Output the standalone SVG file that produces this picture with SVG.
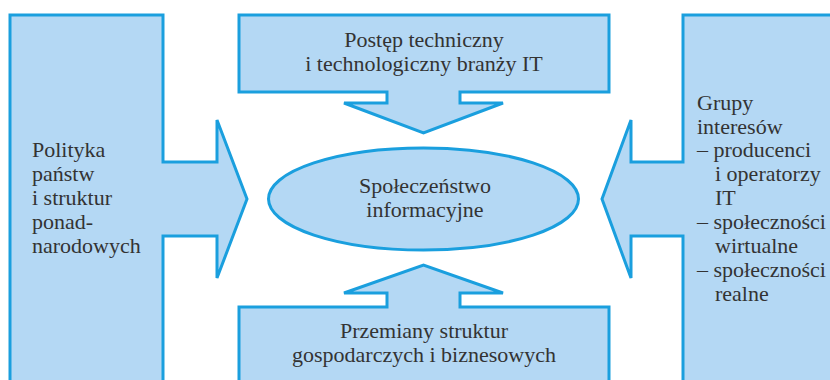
<svg xmlns="http://www.w3.org/2000/svg" width="830" height="380" viewBox="0 0 830 380">
<style>
.shape{fill:#b4d8f4;stroke:#1a9fde;stroke-width:3;stroke-linejoin:miter}
text{font-family:"Liberation Serif","Times New Roman",serif;font-size:22px;fill:#333333}
.c{text-anchor:middle}
</style>
<rect width="830" height="380" fill="#ffffff"/>
<g id="node-left">
<polygon class="shape" points="10,15 163,15 163,162 217,162 217,120 247,199 217,278 217,236 163,236 163,392 10,392"/>
<text x="32" y="157">Polityka</text>
<text x="32" y="181">państw</text>
<text x="32" y="205">i struktur</text>
<text x="32" y="229">ponad-</text>
<text x="32" y="253">narodowych</text>
</g>
<g id="node-top">
<polygon class="shape" points="239,15 609,15 609,92 460,92 460,103 503,103 423.5,133 344,103 387,103 387,92 239,92"/>
<text class="c" x="424" y="47">Postęp techniczny</text>
<text class="c" x="424" y="71">i technologiczny branży IT</text>
</g>
<g id="node-bottom">
<polygon class="shape" points="239,392 239,307 387,307 387,293 344,293 423.5,265 503,293 460,293 460,307 609,307 609,392"/>
<text class="c" x="424" y="338">Przemiany struktur</text>
<text class="c" x="424" y="362">gospodarczych i biznesowych</text>
</g>
<g id="node-right">
<polygon class="shape" points="840,15 683,15 683,162 631,162 631,120 602,199 631,278 631,236 683,236 683,392 840,392"/>
<text x="697" y="110">Grupy</text>
<text x="697" y="134">interesów</text>
<text x="697" y="157">– producenci</text>
<text x="715" y="181">i operatorzy</text>
<text x="715" y="205">IT</text>
<text x="697" y="229">– społeczności</text>
<text x="715" y="253">wirtualne</text>
<text x="697" y="277">– społeczności</text>
<text x="715" y="301">realne</text>
</g>
<g id="node-center">
<ellipse class="shape" cx="423.5" cy="199" rx="155" ry="51"/>
<text class="c" x="425" y="193">Społeczeństwo</text>
<text class="c" x="425" y="217">informacyjne</text>
</g>
</svg>
